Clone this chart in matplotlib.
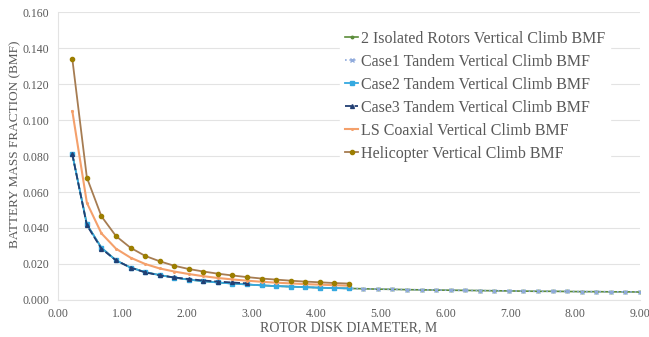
import numpy as np
import matplotlib.pyplot as plt

plt.rcParams['font.family'] = ['Liberation Serif', 'DejaVu Serif']

# rotor disk diameter (m), steps of 0.225
diam = [round(0.225 * k, 3) for k in range(1, 41)]

isolated = [0.081, 0.042, 0.029, 0.022, 0.018, 0.0155, 0.0138, 0.0124, 0.0113, 0.0104,
            0.0097, 0.0091, 0.0086, 0.0081, 0.0077, 0.0074, 0.0071, 0.0068, 0.0066, 0.0064,
            0.0062, 0.0060, 0.0059, 0.0057, 0.0056, 0.0055, 0.0054, 0.0053, 0.0052, 0.0051,
            0.0050, 0.0049, 0.0048, 0.0048, 0.0047, 0.0046, 0.0046, 0.0045, 0.0045, 0.0044]
case1 = [0.081, 0.042, 0.029, 0.022, 0.018, 0.0155, 0.0138, 0.0124, 0.0113, 0.0104,
         0.0097, 0.0091, 0.0086, 0.0081, 0.0077, 0.0074, 0.0071, 0.0068, 0.0066, 0.0064,
         0.0062, 0.0060, 0.0059, 0.0057, 0.0056, 0.0055, 0.0054, 0.0053, 0.0052, 0.0051,
         0.0050, 0.0049, 0.0048, 0.0048, 0.0047, 0.0046, 0.0046, 0.0045, 0.0045, 0.0044]
case2 = [0.081, 0.042, 0.029, 0.022, 0.018, 0.0155, 0.0138, 0.0124, 0.0113, 0.0104,
         0.0097, 0.0091, 0.0086, 0.0081, 0.0077, 0.0074, 0.0071, 0.0068, 0.0066, 0.0064]
case3 = [0.081, 0.0415, 0.0285, 0.022, 0.018, 0.0153, 0.0137, 0.0125, 0.0116, 0.0108,
         0.0102, 0.0097, 0.0092]
coaxial = [0.105, 0.054, 0.037, 0.0285, 0.0235, 0.020, 0.0175, 0.0158, 0.0144, 0.0132,
           0.0122, 0.0114, 0.0107, 0.0101, 0.0096, 0.0092, 0.0088, 0.0085, 0.0082, 0.0079]
helicopter = [0.134, 0.068, 0.0465, 0.0355, 0.029, 0.0245, 0.0215, 0.019, 0.0172, 0.0158,
              0.0146, 0.0136, 0.0127, 0.0119, 0.0113, 0.0107, 0.0102, 0.0098, 0.0094, 0.0091]

fig = plt.figure(figsize=(6.49, 3.37), dpi=100)
ax = fig.add_axes([0.089, 0.11, 0.897, 0.854])

ax.plot(diam, isolated, color="#5B8C3A", lw=1.2, marker='o', ms=1.8,
        label="2 Isolated Rotors Vertical Climb BMF")
ax.plot(diam, case1, color="#8FAADC", lw=1.2, ls=':', marker='x', ms=2.2,
        label="Case1 Tandem Vertical Climb BMF")
ax.plot(diam[:len(case2)], case2, color="#35A9E0", lw=1.3, marker='s', ms=2.6,
        label="Case2 Tandem Vertical Climb BMF")
ax.plot(diam[:len(case3)], case3, color="#223F73", lw=1.3, ls='--', marker='^', ms=2.8,
        label="Case3 Tandem Vertical Climb BMF")
ax.plot(diam[:len(coaxial)], coaxial, color="#F4A06B", lw=1.5, marker='o', ms=1.2,
        label="LS Coaxial Vertical Climb BMF")
ax.plot(diam[:len(helicopter)], helicopter, color="#A67C52", lw=1.3, marker='o', ms=3,
        mfc="#9C7E00", mec="#9C7E00", label="Helicopter Vertical Climb BMF")

ax.set_xlim(0, 9)
ax.set_ylim(0, 0.16)
ax.set_xticks(np.arange(0, 9.01, 1))
ax.set_yticks(np.arange(0, 0.161, 0.02))
ax.set_xticklabels(["%.2f" % v for v in np.arange(0, 9.01, 1)])
ax.set_yticklabels(["%.3f" % v for v in np.arange(0, 0.161, 0.02)])
ax.tick_params(colors="#595959", labelsize=8.5, length=0, pad=6)
ax.grid(axis='y', color="#E3E3E3", lw=0.8)
ax.set_axisbelow(True)
for s in ['top', 'right']:
    ax.spines[s].set_visible(False)
for s in ['left', 'bottom']:
    ax.spines[s].set_color("#E3E3E3")

ax.set_xlabel("ROTOR DISK DIAMETER, M", color="#595959", fontsize=10, labelpad=1)
ax.set_ylabel("BATTERY MASS FRACTION (BMF)", color="#595959", fontsize=9.5)
ax.yaxis.set_label_coords(-0.063, 0.54)

leg = ax.legend(loc='upper left', bbox_to_anchor=(0.485, 0.952), fontsize=11.5,
                frameon=True, framealpha=1, edgecolor='white', handlelength=0.85,
                handletextpad=0.15, labelspacing=0.44, borderpad=0.3, borderaxespad=0)
for t in leg.get_texts():
    t.set_color("#595959")

plt.savefig("out.png", dpi=100)
